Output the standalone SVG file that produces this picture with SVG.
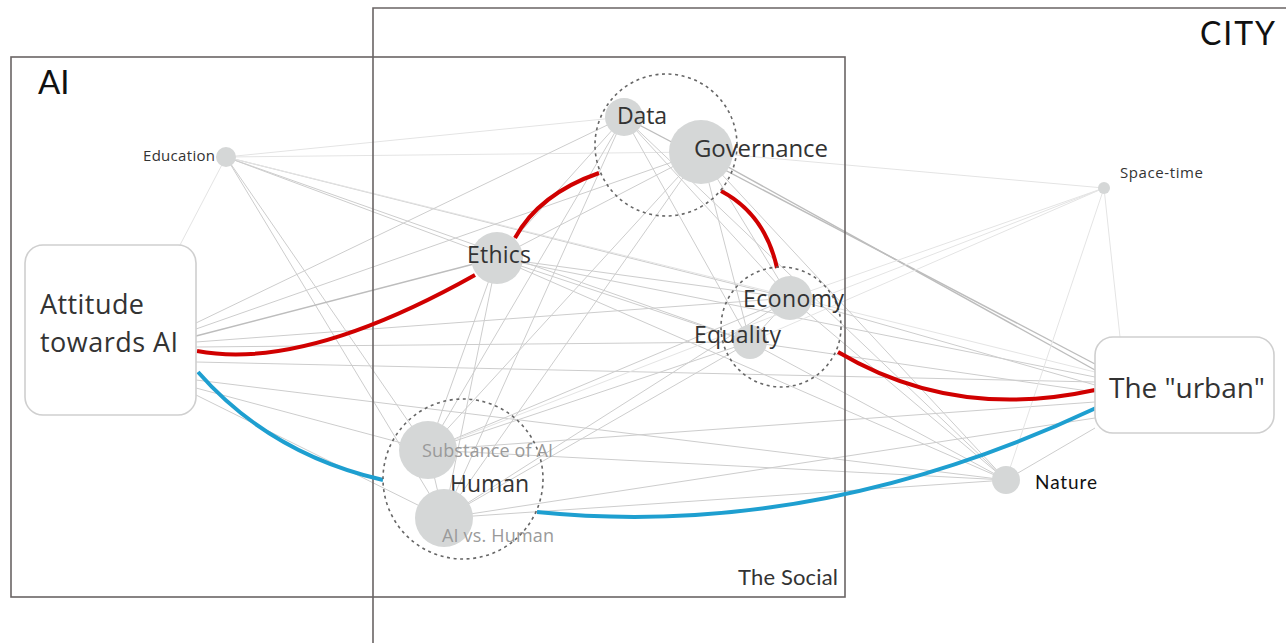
<svg xmlns="http://www.w3.org/2000/svg" width="1286" height="643" viewBox="0 0 1286 643">
<style>
.e{stroke:#cdcdcd;stroke-width:1;fill:none}
.l{stroke:#e4e4e4;stroke-width:1;fill:none}
.d{stroke:#bdbdbd;stroke-width:1.4;fill:none}
.red{stroke:#d00000;stroke-width:4;fill:none}
.blue{stroke:#1e9fd0;stroke-width:4;fill:none}
.box{stroke:#6a6464;stroke-width:1.6;fill:none}
.dot{fill:#d5d7d7}
.grp{fill:none;stroke:#666;stroke-width:1.6;stroke-dasharray:3 3.6}
.rr{fill:#fff;stroke:#cfcfcf;stroke-width:1.6}
.t{font-family:"Open Sans","Noto Sans",sans-serif;fill:#333}
.g{font-family:"Open Sans","Noto Sans",sans-serif;fill:#9a9a9a}
.gs{font-family:Lato,"Liberation Sans",sans-serif}
</style>
<rect width="1286" height="643" fill="#fff"/>
<g id="connectors">
<line class="l" x1="226" y1="157" x2="624" y2="117"/>
<line class="l" x1="226" y1="157" x2="701" y2="152"/>
<line class="e" x1="226" y1="157" x2="497" y2="258"/>
<line class="e" x1="226" y1="157" x2="790" y2="298"/>
<line class="e" x1="226" y1="157" x2="750" y2="342"/>
<line class="e" x1="226" y1="157" x2="428" y2="450"/>
<line class="e" x1="226" y1="157" x2="444" y2="518"/>
<line class="l" x1="226" y1="157" x2="180" y2="245"/>
<line class="l" x1="226" y1="157" x2="1095" y2="372"/>
<line class="e" x1="196" y1="323" x2="624" y2="117"/>
<line class="e" x1="196" y1="329" x2="701" y2="152"/>
<line class="d" x1="196" y1="336" x2="497" y2="258"/>
<line class="e" x1="196" y1="342" x2="790" y2="298"/>
<line class="e" x1="196" y1="347" x2="750" y2="342"/>
<line class="e" x1="196" y1="362" x2="1095" y2="382"/>
<line class="e" x1="196" y1="380" x2="1006" y2="480"/>
<line class="e" x1="196" y1="388" x2="428" y2="450"/>
<line class="e" x1="196" y1="395" x2="444" y2="518"/>
<line class="e" x1="624" y1="117" x2="497" y2="258"/>
<line class="e" x1="624" y1="117" x2="790" y2="298"/>
<line class="e" x1="624" y1="117" x2="750" y2="342"/>
<line class="e" x1="624" y1="117" x2="428" y2="450"/>
<line class="e" x1="624" y1="117" x2="444" y2="518"/>
<line class="d" x1="624" y1="117" x2="1095" y2="364"/>
<line class="e" x1="624" y1="117" x2="1006" y2="480"/>
<line class="e" x1="701" y1="152" x2="497" y2="258"/>
<line class="e" x1="701" y1="152" x2="790" y2="298"/>
<line class="e" x1="701" y1="152" x2="750" y2="342"/>
<line class="e" x1="701" y1="152" x2="428" y2="450"/>
<line class="e" x1="701" y1="152" x2="444" y2="518"/>
<line class="d" x1="701" y1="152" x2="1095" y2="370"/>
<line class="e" x1="701" y1="152" x2="1006" y2="480"/>
<line class="l" x1="701" y1="152" x2="1104" y2="188"/>
<line class="e" x1="497" y1="258" x2="790" y2="298"/>
<line class="e" x1="497" y1="258" x2="750" y2="342"/>
<line class="e" x1="497" y1="258" x2="428" y2="450"/>
<line class="e" x1="497" y1="258" x2="444" y2="518"/>
<line class="e" x1="497" y1="258" x2="1095" y2="377"/>
<line class="e" x1="497" y1="258" x2="1006" y2="480"/>
<line class="e" x1="790" y1="298" x2="750" y2="342"/>
<line class="e" x1="790" y1="298" x2="428" y2="450"/>
<line class="e" x1="790" y1="298" x2="444" y2="518"/>
<line class="e" x1="790" y1="298" x2="1095" y2="385"/>
<line class="e" x1="790" y1="298" x2="1006" y2="480"/>
<line class="l" x1="790" y1="298" x2="1104" y2="188"/>
<line class="e" x1="750" y1="342" x2="428" y2="450"/>
<line class="e" x1="750" y1="342" x2="444" y2="518"/>
<line class="e" x1="750" y1="342" x2="1095" y2="392"/>
<line class="e" x1="750" y1="342" x2="1006" y2="480"/>
<line class="l" x1="750" y1="342" x2="1104" y2="188"/>
<line class="e" x1="428" y1="450" x2="444" y2="518"/>
<line class="e" x1="428" y1="450" x2="1095" y2="402"/>
<line class="e" x1="428" y1="450" x2="1006" y2="480"/>
<line class="l" x1="428" y1="450" x2="1104" y2="188"/>
<line class="e" x1="444" y1="518" x2="1095" y2="418"/>
<line class="e" x1="444" y1="518" x2="1006" y2="480"/>
<line class="l" x1="1104" y1="188" x2="1120" y2="337"/>
<line class="l" x1="1104" y1="188" x2="1006" y2="480"/>
<line class="e" x1="1095" y1="428" x2="1006" y2="480"/>
</g>
<g id="boxes">
<rect class="box" x="11" y="57" width="834" height="540"/>
<path class="box" d="M373 643 V8 H1290"/>
<text class="gs" x="38" y="94" font-size="33" fill="#111">AI</text>
<text class="gs" x="1200" y="45" font-size="32" fill="#111" textLength="75">CITY</text>
<text class="gs" x="738" y="585" font-size="22" fill="#333" textLength="100">The Social</text>
</g>
<g id="highlights">
<path class="red" d="M197 351 Q304 371 475 275"/>
<path class="red" d="M515 238 Q539 194 599 173"/>
<path class="red" d="M721 191 Q765 214 777 268"/>
<path class="red" d="M838 352 Q954 421 1095 390"/>
<path class="blue" d="M198 372 Q270 454 383 480"/>
<path class="blue" d="M537 512 Q815 540 1096 408"/>
</g>
<g id="group-data-governance">
<circle class="grp" cx="666" cy="145" r="71"/>
</g>
<g id="group-economy-equality">
<circle class="grp" cx="781" cy="327" r="60"/>
</g>
<g id="group-human">
<circle class="grp" cx="463" cy="479" r="80"/>
</g>
<g id="education">
<circle class="dot" cx="226" cy="157" r="10"/>
<text class="t" x="215" y="161" font-size="15" text-anchor="end" textLength="72">Education</text>
</g>
<g id="attitude">
<rect class="rr" x="25" y="245" width="171" height="170" rx="18"/>
<text class="t" x="40" y="314" font-size="27" textLength="104">Attitude</text>
<text class="t" x="40" y="352" font-size="27" textLength="138">towards AI</text>
</g>
<g id="data">
<circle class="dot" cx="624" cy="117" r="19"/>
<text class="t" x="617" y="124" font-size="23" textLength="50">Data</text>
</g>
<g id="governance">
<circle class="dot" cx="701" cy="152" r="32"/>
<text class="t" x="694" y="157" font-size="24" textLength="134">Governance</text>
</g>
<g id="ethics">
<circle class="dot" cx="497" cy="258" r="26"/>
<text class="t" x="467" y="263" font-size="23" textLength="64">Ethics</text>
</g>
<g id="economy">
<circle class="dot" cx="790" cy="298" r="22"/>
<text class="t" x="743" y="307" font-size="23" textLength="101">Economy</text>
</g>
<g id="equality">
<circle class="dot" cx="750" cy="342" r="17"/>
<text class="t" x="694" y="343" font-size="23" textLength="87">Equality</text>
</g>
<g id="substance">
<circle class="dot" cx="428" cy="450" r="29"/>
<text class="g" x="422" y="457" font-size="18" textLength="131">Substance of AI</text>
</g>
<g id="human-label">
<text class="t" x="450" y="492" font-size="23" textLength="79">Human</text>
</g>
<g id="ai-vs-human">
<circle class="dot" cx="444" cy="518" r="29"/>
<text class="g" x="442" y="542" font-size="18" textLength="112">AI vs. Human</text>
</g>
<g id="space-time">
<circle class="dot" cx="1104" cy="188" r="6"/>
<text class="t" x="1120" y="178" font-size="15" textLength="83">Space-time</text>
</g>
<g id="urban">
<rect class="rr" x="1095" y="337" width="179" height="96" rx="18"/>
<text class="t" x="1109" y="398" font-size="28" textLength="156">The "urban"</text>
</g>
<g id="nature">
<circle class="dot" cx="1006" cy="480" r="14"/>
<text class="gs" x="1035" y="489" font-size="19" fill="#111" textLength="62">Nature</text>
</g>
</svg>
